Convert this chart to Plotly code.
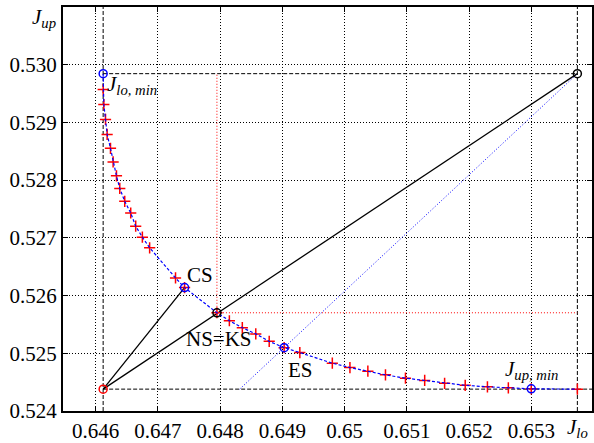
import plotly.graph_objects as go

# Pareto front (J_lo, J_up) points
front_jlo = [0.646122, 0.646123, 0.646133, 0.646160, 0.646186, 0.646240, 0.646282, 0.646336,
             0.646389, 0.646469, 0.646565, 0.646645, 0.646752, 0.646869, 0.647285, 0.647430,
             0.647950, 0.648150, 0.648358, 0.648574, 0.648790, 0.649030, 0.649282, 0.649804,
             0.650087, 0.650375, 0.650658, 0.650979, 0.651288, 0.651608, 0.651939, 0.652296,
             0.652632, 0.653000, 0.653741]
front_jup = [0.529845, 0.529569, 0.529310, 0.529052, 0.528793, 0.528552, 0.528315, 0.528074,
             0.527857, 0.527633, 0.527431, 0.527202, 0.527012, 0.526828, 0.526305, 0.526138,
             0.525702, 0.525564, 0.525443, 0.525336, 0.525207, 0.525098, 0.525012, 0.524828,
             0.524753, 0.524690, 0.524626, 0.524569, 0.524529, 0.524479, 0.524445, 0.524419,
             0.524402, 0.524384, 0.524379]

utopia = (0.646122, 0.524379)
nadir = (0.653741, 0.529845)
jlo_min = (0.646122, 0.529845)
jup_min = (0.653000, 0.524384)
cs = (0.647430, 0.526138)
ns = (0.647950, 0.525702)
es = (0.649030, 0.525098)
es_line_start = (0.648316, 0.524379)

x_range = [0.645477, 0.653976]
y_range = [0.524, 0.531]
x_ticks = [0.646, 0.647, 0.648, 0.649, 0.650, 0.651, 0.652, 0.653]
x_ticklabels = ["0.646", "0.647", "0.648", "0.649", "0.65", "0.651", "0.652", "0.653"]
y_ticks = [0.524, 0.525, 0.526, 0.527, 0.528, 0.529, 0.530]
y_ticklabels = ["0.524", "0.525", "0.526", "0.527", "0.528", "0.529", "0.530"]

FONT = "Liberation Serif, Times New Roman, Times, serif"
DASH = "4px,2px"
DOT = "1px,2px"
fig = go.Figure()

def line(xs, ys, color, dash, width=1):
    fig.add_trace(go.Scatter(x=xs, y=ys, mode="lines", showlegend=False,
                             line=dict(color=color, dash=dash, width=width), hoverinfo="skip"))

# dashed reference lines
line([jlo_min[0], jlo_min[0]], y_range, "black", DASH)
line([nadir[0], nadir[0]], y_range, "black", DASH)
line([jlo_min[0], nadir[0]], [nadir[1], nadir[1]], "black", DASH)
line([utopia[0], x_range[1]], [utopia[1], utopia[1]], "black", DASH)
# red dotted from NS
line([ns[0], ns[0]], [ns[1], nadir[1]], "red", DOT)
line([ns[0], nadir[0]], [ns[1], ns[1]], "red", DOT)
# blue dotted ES line
line([es_line_start[0], nadir[0]], [es_line_start[1], nadir[1]], "blue", DOT)
# black solid lines
line([utopia[0], nadir[0]], [utopia[1], nadir[1]], "black", "solid", 1.3)
line([utopia[0], cs[0]], [utopia[1], cs[1]], "black", "solid", 1.3)

# pareto front
fig.add_trace(go.Scatter(x=front_jlo[1:], y=front_jup[1:], mode="markers", showlegend=False,
                         marker=dict(symbol="cross-thin", size=8, line=dict(color="red", width=1.5))))
fig.add_trace(go.Scatter(x=front_jlo, y=front_jup, mode="lines", showlegend=False,
                         line=dict(color="blue", dash="3px,2px", width=1.2)))

# circles
fig.add_trace(go.Scatter(x=[jlo_min[0], cs[0], es[0], jup_min[0]],
                         y=[jlo_min[1], cs[1], es[1], jup_min[1]], mode="markers", showlegend=False,
                         marker=dict(symbol="circle-open", size=8, color="blue", line=dict(width=1.5))))
fig.add_trace(go.Scatter(x=[ns[0], nadir[0]], y=[ns[1], nadir[1]], mode="markers", showlegend=False,
                         marker=dict(symbol="circle-open", size=8, color="black", line=dict(width=1.5))))
fig.add_trace(go.Scatter(x=[utopia[0]], y=[utopia[1]], mode="markers", showlegend=False,
                         marker=dict(symbol="circle-open", size=8, color="red", line=dict(width=1.5))))

ann_font = dict(family=FONT, size=21, color="black")
anns = [
    dict(x=jlo_min[0], y=jlo_min[1], text="<i>J</i><sub><i>lo, min</i></sub>", xanchor="left", yanchor="top",
         xshift=2, yshift=4),
    dict(x=cs[0], y=cs[1], text="CS", xanchor="left", yanchor="bottom", xshift=0, yshift=-1),
    dict(x=ns[0], y=ns[1], text="NS=KS", xanchor="center", yanchor="top", xshift=2, yshift=-12),
    dict(x=es[0], y=es[1], text="ES", xanchor="left", yanchor="top", xshift=2, yshift=-8),
    dict(x=jup_min[0], y=jup_min[1], text="<i>J</i><sub><i>up, min</i></sub>", xanchor="center",
         yanchor="bottom", xshift=0, yshift=4),
]
for a in anns:
    fig.add_annotation(xref="x", yref="y", showarrow=False, font=ann_font, **a)
fig.add_annotation(xref="paper", yref="paper", x=-0.01, y=1.0, xanchor="right", yanchor="top", yshift=4,
                   text="<i>J</i><sub><i>up</i></sub>", showarrow=False, font=ann_font)
fig.add_annotation(xref="x", yref="paper", x=nadir[0], y=0, xanchor="center", yanchor="top", yshift=-2,
                   text="<i>J</i><sub><i>lo</i></sub>", showarrow=False, font=ann_font)

axis_common = dict(showline=True, linecolor="black", linewidth=2, mirror="ticks", ticks="inside",
                   ticklen=5, tickcolor="black", showgrid=True, gridcolor="black", griddash=DOT,
                   gridwidth=1, zeroline=False, tickfont=dict(family=FONT, size=21, color="black"))
fig.update_xaxes(range=x_range, tickvals=x_ticks, ticktext=x_ticklabels, **axis_common)
fig.update_yaxes(range=y_range, tickvals=y_ticks, ticktext=y_ticklabels, **axis_common)

fig.update_layout(width=594, height=443, margin=dict(l=63, r=0, t=7, b=30),
                  paper_bgcolor="white", plot_bgcolor="white", showlegend=False,
                  font=dict(family=FONT))
fig.write_html("out.html", config={"displayModeBar": False},
               post_script="document.body.style.margin='0';document.body.style.overflow='hidden';")
